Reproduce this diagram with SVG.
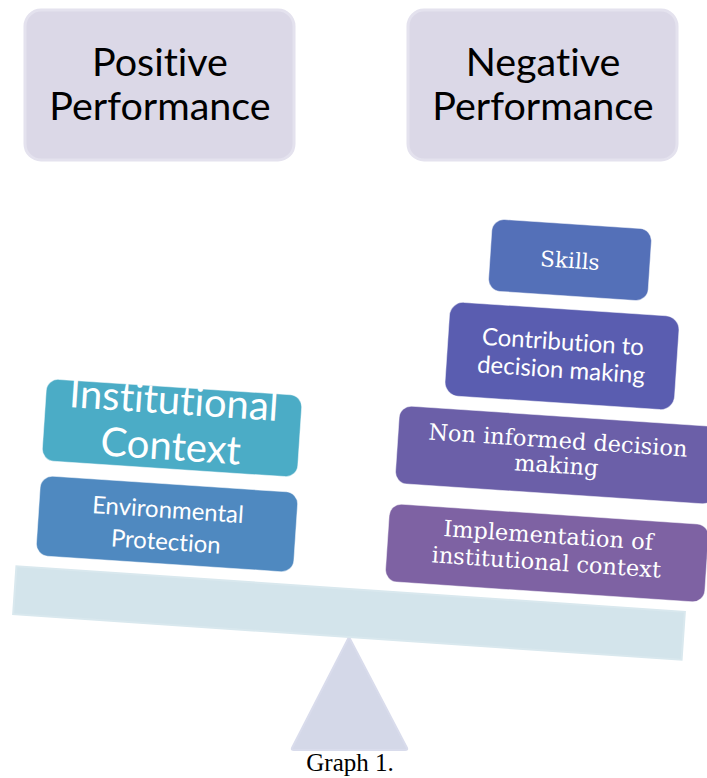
<svg xmlns="http://www.w3.org/2000/svg" width="707" height="778" viewBox="0 0 707 778">
  <style>
    text { font-variant-ligatures: none; }
    .head { fill: #dbd8e7; stroke: #e4e2ee; stroke-width: 3; }
    .head-t { font-family: Lato, "Liberation Sans", sans-serif; font-size: 39.5px; fill: #000; text-anchor: middle; }
    .sans { font-family: Lato, "Liberation Sans", sans-serif; fill: #fff; text-anchor: middle; }
    .serif { font-family: "DejaVu Serif", "Liberation Serif", serif; fill: #fff; text-anchor: middle; }
    .box { stroke: #ffffff; stroke-opacity: 0.5; stroke-width: 1; }
  </style>

  <rect width="707" height="778" fill="#ffffff"/>

  <!-- headings -->
  <g id="positive">
    <rect class="head" x="25" y="10" width="269" height="150" rx="16"/>
    <text class="head-t" x="160" y="76">Positive</text>
    <text class="head-t" x="160" y="120">Performance</text>
  </g>
  <g id="negative">
    <rect class="head" x="408" y="10" width="269" height="150" rx="16"/>
    <text class="head-t" x="543" y="76">Negative</text>
    <text class="head-t" x="543" y="120">Performance</text>
  </g>

  <!-- fulcrum and beam -->
  <g id="fulcrum">
    <path d="M349 637 L407 748 Q408 750 405 750 L294 750 Q291 750 292 748 Z" fill="#d4d8e8" stroke="#d9dcec" stroke-width="2" stroke-linejoin="round"/>
  </g>
  <g id="beam" transform="translate(349 613) rotate(3.9)">
    <rect x="-335" y="-24" width="670" height="48" fill="#d3e4eb" stroke="#d9e8ee" stroke-width="2"/>
  </g>

  <!-- left pan -->
  <g id="institutional-context" transform="translate(172 428) rotate(3.8)">
    <rect class="box" x="-128" y="-41" width="256" height="82" rx="12" fill="#4bacc6"/>
    <text class="sans" font-size="40" x="0" y="-14">Institutional</text>
    <text class="sans" font-size="40" x="0" y="32">Context</text>
  </g>
  <g id="environmental-protection" transform="translate(167 524) rotate(3.8)">
    <rect class="box" x="-129" y="-40" width="258" height="80" rx="12" fill="#4f89c0"/>
    <text class="sans" font-size="24" x="0" y="-6">Environmental</text>
    <text class="sans" font-size="24" x="0" y="26">Protection</text>
  </g>

  <!-- right pan -->
  <g id="skills" transform="translate(570 260) rotate(3.8)">
    <rect class="box" x="-80" y="-36" width="160" height="72" rx="12" fill="#5470b8"/>
    <text class="serif" font-size="21.5" x="0" y="8">Skills</text>
  </g>
  <g id="contribution" transform="translate(562 356) rotate(3.8)">
    <rect class="box" x="-115" y="-47" width="230" height="94" rx="14" fill="#5a5db0"/>
    <text class="sans" font-size="24" x="0" y="-6">Contribution to</text>
    <text class="sans" font-size="24" x="0" y="22">decision making</text>
  </g>
  <g id="non-informed" transform="translate(557 455) rotate(3.8)">
    <rect class="box" x="-160" y="-39" width="320" height="78" rx="12" fill="#6b5fa8"/>
    <text class="serif" font-size="22.5" x="0" y="-7">Non informed decision</text>
    <text class="serif" font-size="22.5" x="0" y="18">making</text>
  </g>
  <g id="implementation" transform="translate(547 553) rotate(3.8)">
    <rect class="box" x="-160" y="-39" width="320" height="78" rx="12" fill="#7e62a3"/>
    <text class="serif" font-size="22.5" x="0" y="-10">Implementation of</text>
    <text class="serif" font-size="22.5" x="0" y="17">institutional context</text>
  </g>

  <text x="350" y="771" font-family="'Liberation Serif', serif" font-size="25" fill="#000" text-anchor="middle">Graph 1.</text>
</svg>
